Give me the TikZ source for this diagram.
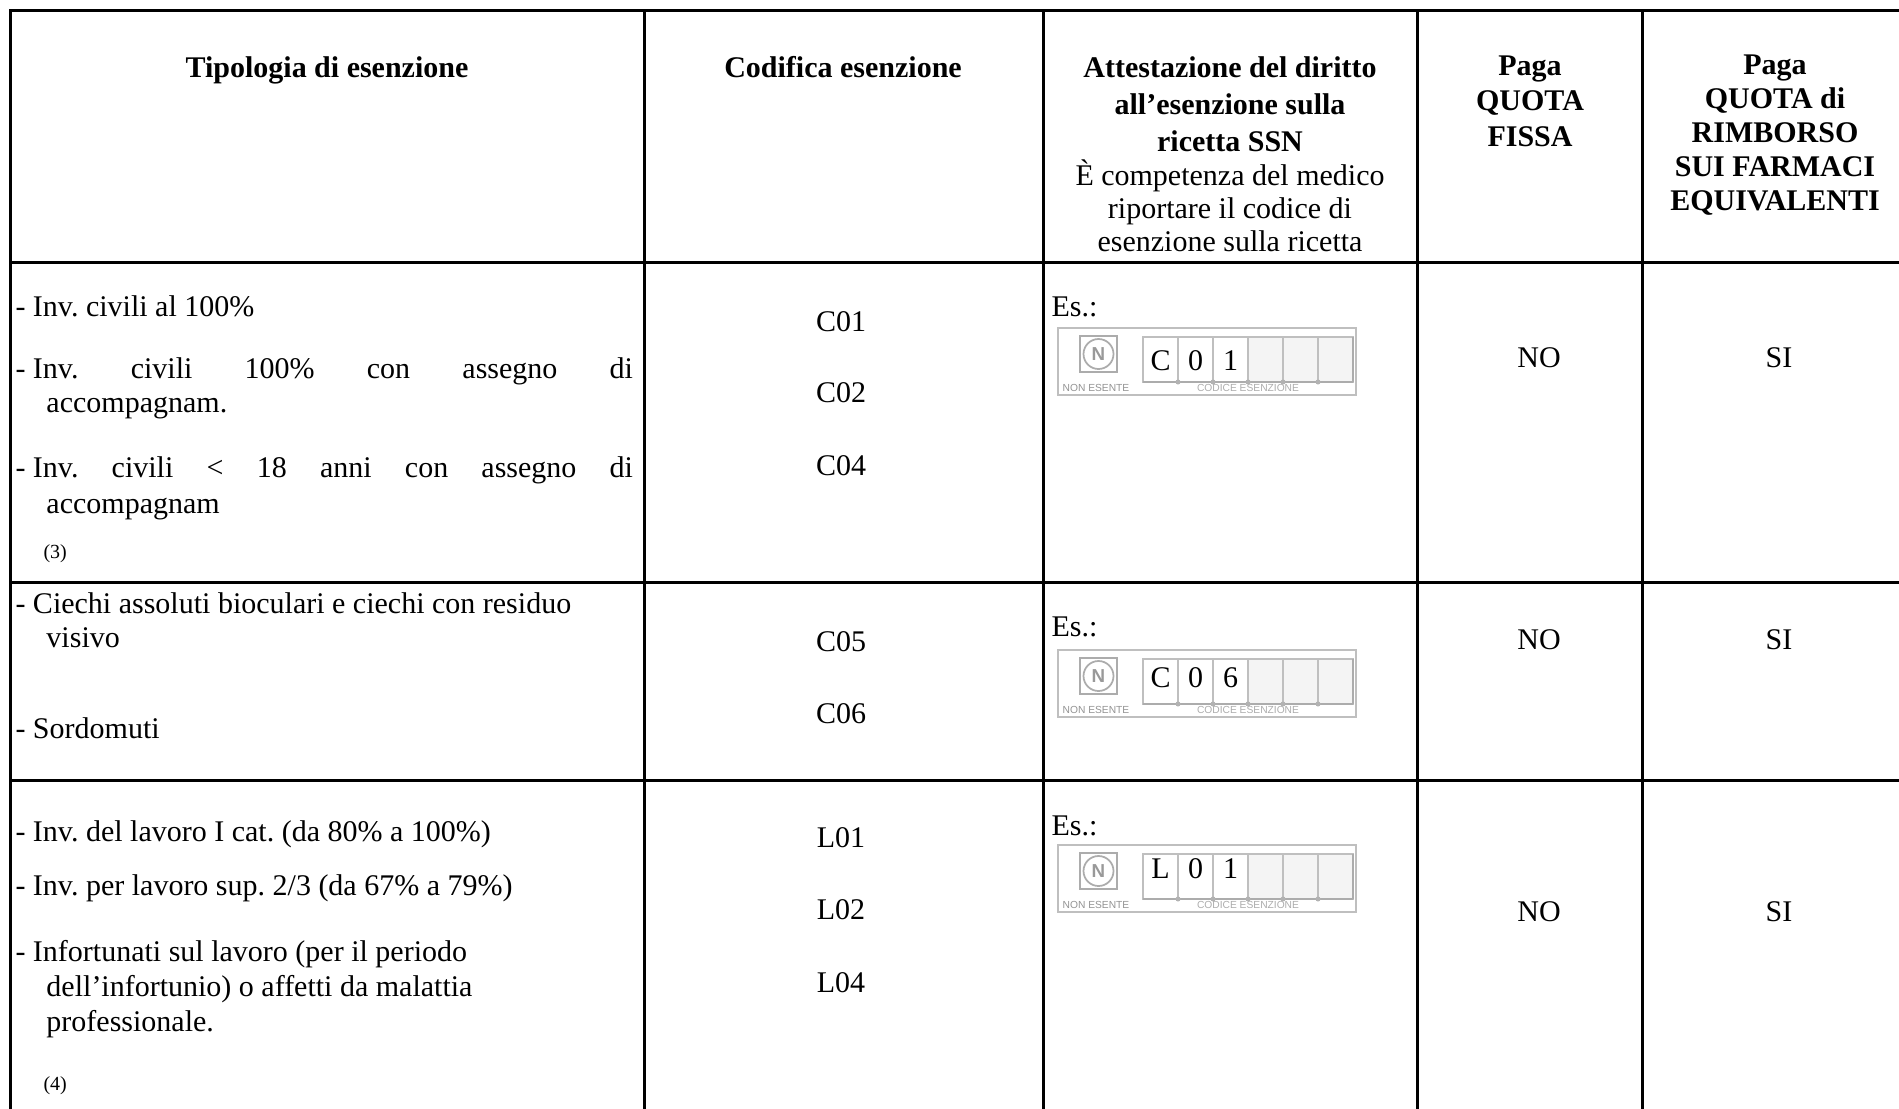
\documentclass[tikz,border=0pt]{standalone}
\usepackage{fontspec}
\setmainfont{Liberation Serif}
\setsansfont{Liberation Sans}

% modulo ricetta: nome, angolo in alto a sinistra, linea di base delle cifre, cifre
\newcommand{\ricetta}[4]{%
	\begin{scope}[shift={#2}]
		\draw[formline] (0,0) rectangle (298,67);
		\draw[formdark] (22,8) rectangle (59,44);
		\node[formN] (#1-n) at (40.5,26) {N};
		\node[formsmall, text=gray!85] (#1-ne) at (38,60) {NON ESENTE};
		\foreach \i in {0,1,2}
			\draw[formline, fill=white] ({85+35*\i},9) rectangle +(35,45);
		\foreach \i in {3,4,5}
			\draw[formline, fill=gray!9] ({85+35*\i},9) rectangle +(35,45);
		\draw[formdark, line width=0.9pt] (85,54) -- (295,54);
		\draw[formdark, line width=0.9pt] (295,9) -- (295,54);
		\foreach \i in {1,...,5}
			\fill[gray!60] ({85+35*\i},54) circle (2.5);
		\node[formsmall] (#1-ce) at (190,60) {CODICE ESENZIONE};
		\foreach \ch [count=\i] in {#4}
			\node[digit] (#1-\i) at ({85+35*\i-17.5},#3) {\ch};
	\end{scope}}

\begin{document}
\frenchspacing
\begin{tikzpicture}[x=0.4pt, y=-0.4pt,
	grid/.style={line width=1.2pt, line cap=rect},
	txt/.style={anchor=base west, inner sep=0pt, font=\fontsize{12}{14.4}\selectfont},
	ctr/.style={anchor=base, inner sep=0pt, font=\fontsize{12}{14.4}\selectfont},
	head/.style={anchor=base, inner sep=0pt, align=center, font=\fontsize{12}{14.4}\selectfont\bfseries},
	note/.style={anchor=base west, inner sep=0pt, font=\fontsize{8}{9.6}\selectfont},
	digit/.style={anchor=base, inner sep=0pt, font=\fontsize{12}{14.4}\selectfont},
	formline/.style={draw=gray!50, line width=0.6pt},
	formdark/.style={draw=gray!65, line width=0.8pt},
	formN/.style={circle, draw=gray!65, line width=0.7pt, minimum size=12pt, inner sep=0pt, text=gray!80, font=\sffamily\bfseries\fontsize{7.5}{8}\selectfont},
	formsmall/.style={inner sep=0pt, text=gray!65, font=\sffamily\fontsize{4.1}{5}\selectfont}]
	\useasboundingbox (0,0) rectangle (1899,1108);

	% griglia
	\draw[grid] (10,10) -- (1899,10);
	\foreach \y in {262,582,780}
		\draw[grid] (10,\y) -- (1899,\y);
	\foreach \x in {10,644,1043,1417,1642}
		\draw[grid] (\x,10) -- (\x,1108);

	% intestazione (base = ultima riga)
	\node[head] (h1) at (327,77) {Tipologia di esenzione};
	\node[head] (h2) at (843,77) {Codifica esenzione};
	\node[head, font=\fontsize{12}{13.2}\selectfont] (h3) at (1230,251) {\textbf{Attestazione del diritto}\\[1.6pt]
		\textbf{all’esenzione sulla}\\[1.6pt] \textbf{ricetta SSN}\\[0.4pt] È competenza del medico\\
		riportare il codice di\\ esenzione sulla ricetta};
	\node[head, font=\fontsize{12}{14.2}\selectfont\bfseries] (h4) at (1530,146) {Paga\\ QUOTA\\ FISSA};
	\node[head, font=\fontsize{12}{13.6}\selectfont\bfseries] (h5) at (1775,210) {Paga\\ QUOTA di\\ RIMBORSO\\ SUI FARMACI\\ EQUIVALENTI};

	% invalidi civili
	\node[txt] (c1a) at (15,316) {- Inv. civili al 100\%};
	\node[txt] (c1b) at (15,378) {\makebox[247pt][s]{-\kern3pt Inv. civili 100\% con assegno di}};
	\node[txt] (c1c) at (46,412) {accompagnam.};
	\node[txt] (c1d) at (15,477) {\makebox[247pt][s]{-\kern3pt Inv. civili < 18 anni con assegno di}};
	\node[txt] (c1e) at (46,513) {accompagnam};
	\node[note] (c1n) at (43,558) {(3)};
	\node[ctr] (k1a) at (841,331) {C01};
	\node[ctr] (k1b) at (841,402) {C02};
	\node[ctr] (k1c) at (841,475) {C04};
	\node[txt] (es1) at (1051,316) {Es.:};
	\ricetta{f1}{(1058,328)}{42}{C,0,1}
	\node[ctr] (q1) at (1539,367) {NO};
	\node[ctr] (r1) at (1779,367) {SI};

	% ciechi e sordomuti
	\node[txt] (c2a) at (15,613) {- Ciechi assoluti bioculari e ciechi con residuo};
	\node[txt] (c2b) at (46,647) {visivo};
	\node[txt] (c2c) at (15,738) {- Sordomuti};
	\node[ctr] (k2a) at (841,651) {C05};
	\node[ctr] (k2b) at (841,723) {C06};
	\node[txt] (es2) at (1051,636) {Es.:};
	\ricetta{f2}{(1058,650)}{37}{C,0,6}
	\node[ctr] (q2) at (1539,649) {NO};
	\node[ctr] (r2) at (1779,649) {SI};

	% invalidi del lavoro
	\node[txt] (c3a) at (15,841) {- Inv. del lavoro I cat. (da 80\% a 100\%)};
	\node[txt] (c3b) at (15,895) {- Inv. per lavoro sup. 2/3 (da 67\% a 79\%)};
	\node[txt] (c3c) at (15,961) {- Infortunati sul lavoro (per il periodo};
	\node[txt] (c3d) at (46,996) {dell’infortunio) o affetti da malattia};
	\node[txt] (c3e) at (46,1031) {professionale.};
	\node[note] (c3n) at (43,1090) {(4)};
	\node[ctr] (k3a) at (841,847) {L01};
	\node[ctr] (k3b) at (841,919) {L02};
	\node[ctr] (k3c) at (841,992) {L04};
	\node[txt] (es3) at (1051,835) {Es.:};
	\ricetta{f3}{(1058,845)}{33}{L,0,1}
	\node[ctr] (q3) at (1539,921) {NO};
	\node[ctr] (r3) at (1779,921) {SI};
\end{tikzpicture}
\end{document}
